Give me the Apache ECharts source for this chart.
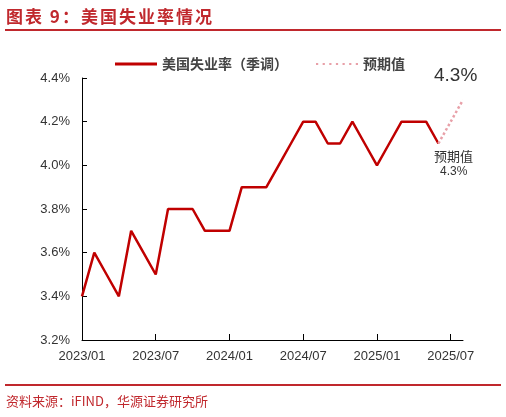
<!DOCTYPE html>
<html><head><meta charset="utf-8">
<script src="https://cdn.jsdelivr.net/npm/echarts@6/dist/echarts.min.js"></script>
<style>body{margin:0;background:#fff;font-family:"Noto Sans CJK SC",sans-serif}
#t{position:absolute;left:6px;top:3px;color:#c0282d;font-size:17px;font-weight:bold;font-family:"Noto Sans CJK SC";letter-spacing:2px}
#l1{position:absolute;left:5px;top:29px;width:496px;height:2px;background:#c0282d}
#l2{position:absolute;left:5px;top:384px;width:496px;height:2px;background:#c0282d}
#s{position:absolute;left:6px;top:391px;font-size:13px;color:#c0282d}
#c{position:absolute;left:0;top:0;width:506px;height:417px}</style></head>
<body><div id="c"></div><div id="t">图表 9：美国失业率情况</div><div id="l1"></div><div id="l2"></div><div id="s">资料来源：iFIND，华源证券研究所</div>
<script>
const categories=['2023/01','2023/02','2023/03','2023/04','2023/05','2023/06','2023/07','2023/08','2023/09','2023/10','2023/11','2023/12','2024/01','2024/02','2024/03','2024/04','2024/05','2024/06','2024/07','2024/08','2024/09','2024/10','2024/11','2024/12','2025/01','2025/02','2025/03','2025/04','2025/05','2025/06','2025/07','2025/08'];
const actual=[3.4,3.6,3.5,3.4,3.7,3.6,3.5,3.8,3.8,3.8,3.7,3.7,3.7,3.9,3.9,3.9,4.0,4.1,4.2,4.2,4.1,4.1,4.2,4.1,4.0,4.1,4.2,4.2,4.2,4.1,null,null];
const forecast=[null,null,null,null,null,null,null,null,null,null,null,null,null,null,null,null,null,null,null,null,null,null,null,null,null,null,null,null,null,4.1,4.2,4.3];
const dots='path://M0,0h2v2h-2zM6,0h2v2h-2zM12,0h2v2h-2zM18,0h2v2h-2zM24,0h2v2h-2zM30,0h2v2h-2zM36,0h2v2h-2z';
const c=echarts.init(document.getElementById('c'));
c.setOption({animation:false,
legend:{top:52,left:110,itemWidth:42,itemHeight:3,itemGap:28,textStyle:{fontSize:14,color:'#444',fontWeight:'bold',fontFamily:'Noto Sans CJK SC'},
 data:[{name:'美国失业率（季调）',icon:'rect',itemStyle:{color:'#c00000'}},{name:'预期值',icon:dots,itemStyle:{color:'#e8a0a8'}}]},
grid:{left:82,right:43,top:78,bottom:77},
xAxis:{type:'category',data:categories,boundaryGap:false,
 axisLine:{lineStyle:{color:'#000'}},axisTick:{interval:5,length:6,inside:true,lineStyle:{color:'#000'}},
 axisLabel:{interval:5,color:'#333',fontSize:13,margin:10,fontFamily:'Arial'}},
yAxis:{type:'value',min:3.2,max:4.4,interval:0.2,splitLine:{show:false},
 axisLine:{show:true,lineStyle:{color:'#000'}},axisTick:{show:true,inside:true,lineStyle:{color:'#000'}},
 axisLabel:{formatter:v=>v.toFixed(1)+'%',color:'#333',fontSize:13,margin:12,fontFamily:'Arial'}},
series:[
{name:'美国失业率（季调）',type:'line',data:actual,symbol:'none',lineStyle:{color:'#c00000',width:2.5},itemStyle:{color:'#c00000'}},
{name:'预期值',type:'line',data:forecast,symbol:'none',lineStyle:{color:'#e8a0a8',width:2.5,type:'dotted'},itemStyle:{color:'#e8a0a8'}}
],
graphic:[{type:'text',left:434,top:150,style:{text:'预期值',fill:'#333',font:'13px "Noto Sans CJK SC"'}},
{type:'text',left:440,top:166,style:{text:'4.3%',fill:'#333',font:'12px Arial'}},
{type:'text',left:434,top:66,style:{text:'4.3%',fill:'#333',font:'19px Arial'}}]
});
</script></body></html>
